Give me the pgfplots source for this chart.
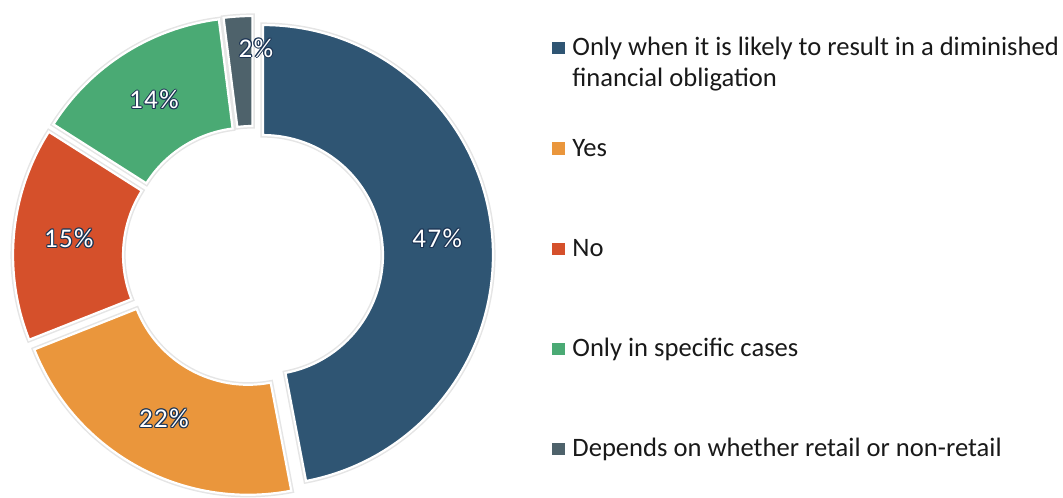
\documentclass[border=0pt]{standalone}
\usepackage{fontspec}
\setmainfont{Carlito}
\newfontfamily\pctfont[LetterSpace=5]{Carlito}
\usepackage{pgfplots}
\usepackage{pgfplotstable}
\pgfplotsset{compat=1.18}

\definecolor{slice0}{RGB}{47,85,115}
\definecolor{slice1}{RGB}{234,150,60}
\definecolor{slice2}{RGB}{213,80,43}
\definecolor{slice3}{RGB}{74,170,116}
\definecolor{slice4}{RGB}{78,98,107}
\definecolor{labeledge}{RGB}{28,52,84}

% shares in percent; label radius and angular nudge (degrees, clockwise)
\pgfplotstableread{
share lrad lshift
47 185 0
22 185 0
15 185 0
14 185 0
2  208 4.4
}\shares

% ring geometry in axis units (1 unit = 0.5pt)
\def\cx{253}\def\cy{241}\def\Rout{230}\def\Rin{120}\def\pull{10}

% slice angles, exploded centres and label positions
\xdef\acc{0}
\foreach \i in {0,...,4}{%
  \pgfplotstablegetelem{\i}{share}\of\shares \let\cur\pgfplotsretval
  \pgfplotstablegetelem{\i}{lrad}\of\shares \let\labr\pgfplotsretval
  \pgfplotstablegetelem{\i}{lshift}\of\shares \let\labs\pgfplotsretval
  \pgfmathsetmacro\aS{90-3.6*\acc}%
  \pgfmathsetmacro\aE{90-3.6*(\acc+\cur)}%
  \pgfmathsetmacro\aM{(\aS+\aE)/2}%
  \pgfmathsetmacro\ox{\cx+\pull*cos(\aM)}%
  \pgfmathsetmacro\oy{\cy+\pull*sin(\aM)}%
  \pgfmathsetmacro\px{\ox+\Rout*cos(\aS)}%
  \pgfmathsetmacro\py{\oy+\Rout*sin(\aS)}%
  \pgfmathsetmacro\qx{\ox+\Rin*cos(\aE)}%
  \pgfmathsetmacro\qy{\oy+\Rin*sin(\aE)}%
  \pgfmathsetmacro\lx{\cx+\labr*cos(\aM-\labs)}%
  \pgfmathsetmacro\ly{\cy+\labr*sin(\aM-\labs)}%
  \expandafter\xdef\csname sS\i\endcsname{\aS}%
  \expandafter\xdef\csname sE\i\endcsname{\aE}%
  \expandafter\xdef\csname px\i\endcsname{\px}%
  \expandafter\xdef\csname py\i\endcsname{\py}%
  \expandafter\xdef\csname qx\i\endcsname{\qx}%
  \expandafter\xdef\csname qy\i\endcsname{\qy}%
  \expandafter\xdef\csname lx\i\endcsname{\lx}%
  \expandafter\xdef\csname ly\i\endcsname{\ly}%
  \expandafter\xdef\csname val\i\endcsname{\cur}%
  \pgfmathsetmacro\newacc{\acc+\cur}%
  \xdef\acc{\newacc}%
}

\tikzset{
  pctlabel/.style={inner sep=0pt, font=\pctfont\fontsize{13.5}{16}\selectfont},
  legtext/.style={anchor=base west, inner sep=0pt, text=black!90,
    font=\fontsize{13.3}{16}\selectfont},
}

% white figures with a dark rim
\newcommand\rimlabel[3]{%
  \node[pctlabel, labeledge, shift={(0.55pt,0pt)}] at (axis cs:#1,#2) {#3};
  \node[pctlabel, labeledge, shift={(-0.55pt,0pt)}] at (axis cs:#1,#2) {#3};
  \node[pctlabel, labeledge, shift={(0pt,0.55pt)}] at (axis cs:#1,#2) {#3};
  \node[pctlabel, labeledge, shift={(0pt,-0.55pt)}] at (axis cs:#1,#2) {#3};
  \node[pctlabel, labeledge, shift={(0.4pt,0.4pt)}] at (axis cs:#1,#2) {#3};
  \node[pctlabel, labeledge, shift={(-0.4pt,0.4pt)}] at (axis cs:#1,#2) {#3};
  \node[pctlabel, labeledge, shift={(0.4pt,-0.4pt)}] at (axis cs:#1,#2) {#3};
  \node[pctlabel, labeledge, shift={(-0.4pt,-0.4pt)}] at (axis cs:#1,#2) {#3};
  \node[pctlabel, white] at (axis cs:#1,#2) {#3};
}

\begin{document}
\begin{tikzpicture}
\path[use as bounding box] (0,0) rectangle (531.5pt,248.5pt);
\begin{axis}[
  at={(0,0)}, anchor=south west,
  x=0.5pt, y=0.5pt,
  xmin=0, xmax=1063, ymin=0, ymax=497,
  hide axis, clip=false,
]
\pgfplotsinvokeforeach{0,...,4}{
  \path[fill=slice#1, draw=white, line width=1.1pt,
        preaction={draw=black!10, line width=2.6pt}]
    (axis cs:\csname px#1\endcsname,\csname py#1\endcsname)
    arc[start angle=\csname sS#1\endcsname, end angle=\csname sE#1\endcsname, radius=115pt]
    -- (axis cs:\csname qx#1\endcsname,\csname qy#1\endcsname)
    arc[start angle=\csname sE#1\endcsname, end angle=\csname sS#1\endcsname, radius=60pt]
    -- cycle;
}
\pgfplotsinvokeforeach{0,...,4}{
  \rimlabel{\csname lx#1\endcsname}{\csname ly#1\endcsname}{\csname val#1\endcsname\%}
}

% legend
\fill[slice0] (axis cs:552,443) rectangle (axis cs:565,455);
\node[legtext] at (axis cs:572,441) {Only when it is likely to result in a diminished};
\node[legtext] at (axis cs:572,410) {financial obligation};
\fill[slice1] (axis cs:552,342) rectangle (axis cs:565,355);
\node[legtext] at (axis cs:572,340) {Yes};
\fill[slice2] (axis cs:552,242) rectangle (axis cs:565,254);
\node[legtext] at (axis cs:572,240) {No};
\fill[slice3] (axis cs:552,142) rectangle (axis cs:565,154);
\node[legtext] at (axis cs:572,140) {Only in specific cases};
\fill[slice4] (axis cs:552,42) rectangle (axis cs:565,54);
\node[legtext] at (axis cs:572,40) {Depends on whether retail or non-retail};
\end{axis}
\end{tikzpicture}
\end{document}
